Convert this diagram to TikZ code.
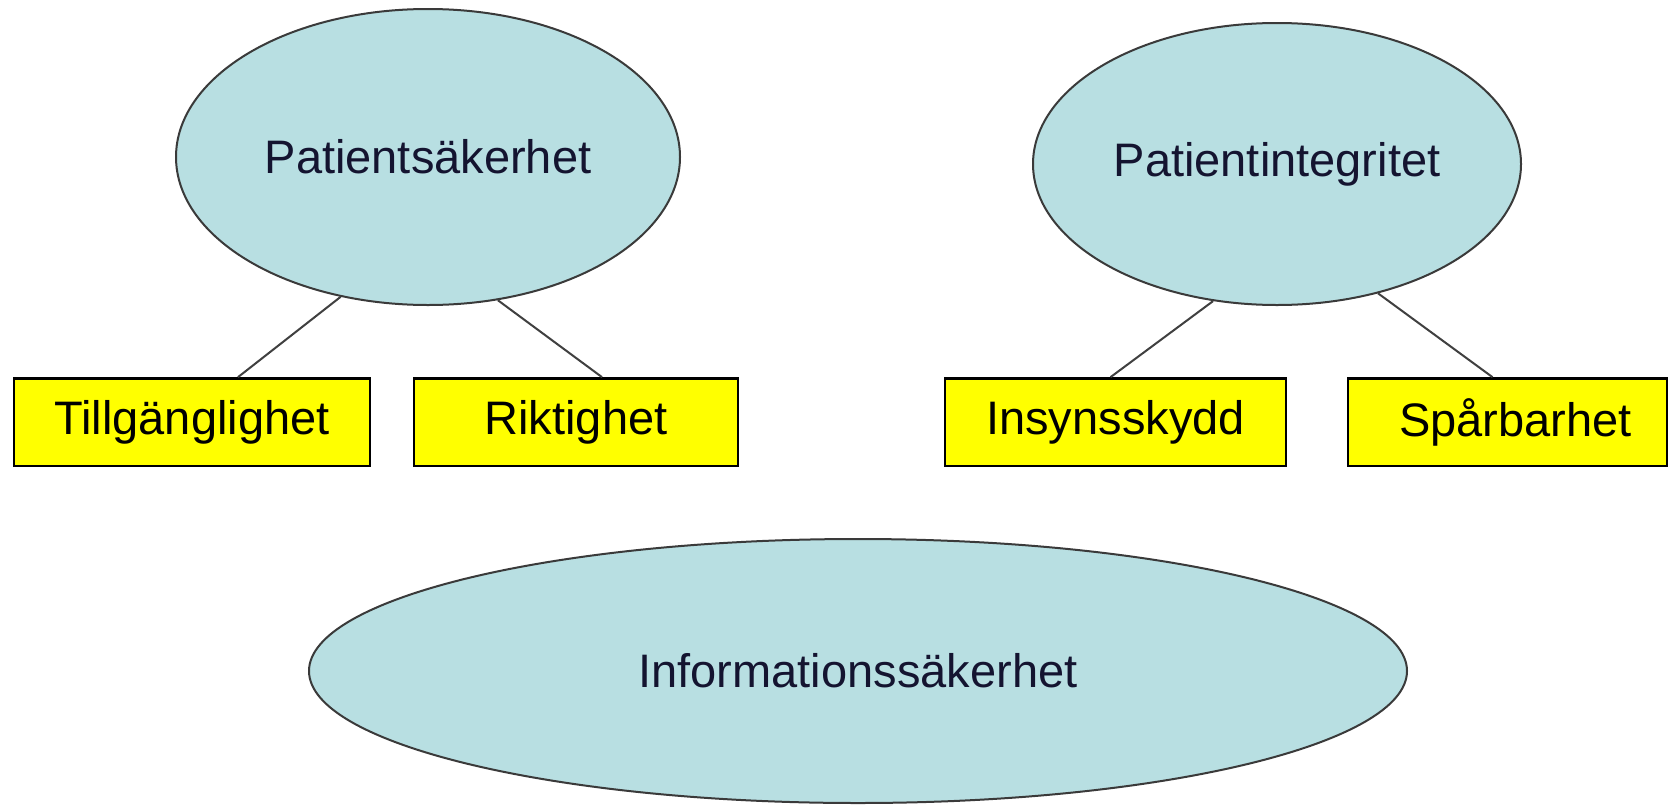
\documentclass[tikz,border=0pt]{standalone}
\usepackage{fontspec}
\setmainfont{Liberation Sans}
\usetikzlibrary{shapes.geometric}
\definecolor{ellfill}{HTML}{B8DFE2}
\definecolor{ellline}{HTML}{3A3A3A}
\definecolor{elltext}{HTML}{141430}
\definecolor{boxfill}{HTML}{FFFF00}
\definecolor{conn}{HTML}{404040}
\begin{document}
\begin{tikzpicture}[x=1pt,y=-1pt,
  ellnode/.style={ellipse, draw=ellline, line width=2pt, fill=ellfill, inner sep=0pt,
    text=elltext, font=\fontsize{47}{56}\selectfont},
  boxnode/.style={rectangle, draw=black, line width=2.8pt, fill=boxfill, inner sep=0pt,
    minimum height=87.5pt, text=black, font=\fontsize{47}{56}\selectfont},
  connector/.style={draw=conn, line width=2pt}]
\useasboundingbox (0,0) rectangle (1670,806);
\fill[white] (0,0) rectangle (1670,806);

\node[ellnode, minimum width=504pt, minimum height=296pt] (e1) at (428,157) {Patientsäkerhet};
\node[ellnode, minimum width=488pt, minimum height=282pt] (e2) at (1277,164) {Patientintegritet};
\node[ellnode, minimum width=1098pt, minimum height=264pt] (e3) at (858,671) {Informationssäkerhet};

\node[boxnode, minimum width=356pt] (b1) at (192,422.3) {Tillgänglighet};
\node[boxnode, minimum width=324pt] (b2) at (576,422.3) {Riktighet};
\node[boxnode, minimum width=341pt] (b3) at (1115.5,422.3) {Insynsskydd};
\node[boxnode, minimum width=319pt] (b4) at (1507.5,422.3) {\hspace*{16pt}Spårbarhet};

\draw[connector] (e1.238.6) -- ([xshift=46pt]b1.north);
\draw[connector] (e1.296.6) -- ([xshift=26pt]b2.north);
\draw[connector] (e2.245.1) -- ([xshift=-5pt]b3.north);
\draw[connector] (e2.308.6) -- ([xshift=-15pt]b4.north);
\end{tikzpicture}
\end{document}
